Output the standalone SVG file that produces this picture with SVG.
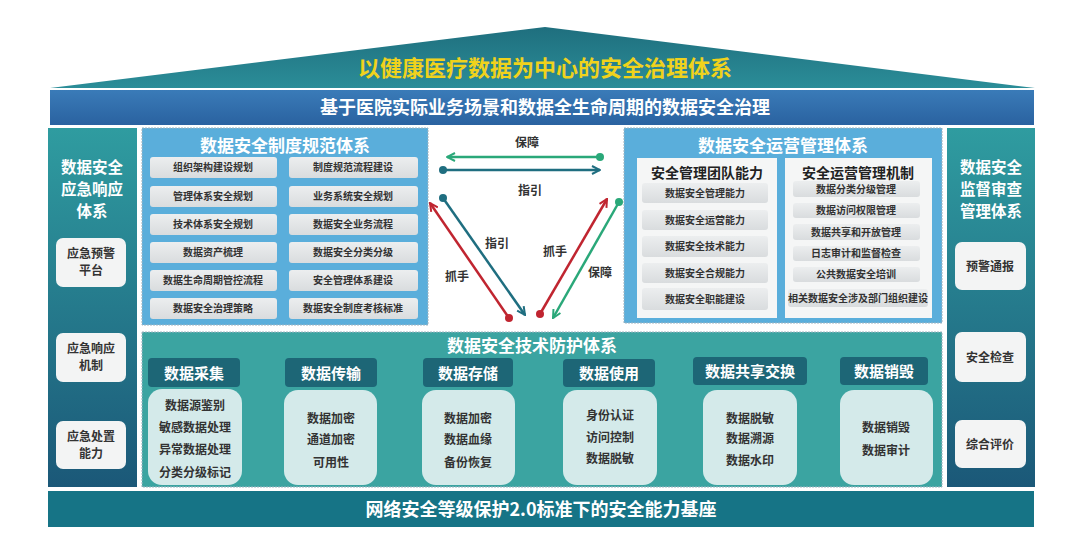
<svg xmlns="http://www.w3.org/2000/svg" width="1080" height="553" viewBox="0 0 1080 553">
<defs>
<linearGradient id="gRoof" x1="0" y1="0" x2="0" y2="1"><stop offset="0" stop-color="#1f6f7e"/><stop offset="1" stop-color="#2b8d98"/></linearGradient>
<linearGradient id="gBlue" x1="0" y1="0" x2="0" y2="1"><stop offset="0" stop-color="#3a7bb8"/><stop offset="1" stop-color="#2a62a0"/></linearGradient>
<linearGradient id="gCol" x1="0" y1="0" x2="0" y2="1"><stop offset="0" stop-color="#2f9ca0"/><stop offset="1" stop-color="#1b5878"/></linearGradient>
<linearGradient id="gItem" x1="0" y1="0" x2="0" y2="1"><stop offset="0" stop-color="#eceeef"/><stop offset="1" stop-color="#d9dcde"/></linearGradient>
<marker id="mG" viewBox="0 0 10 10" refX="9" refY="5" markerWidth="4" markerHeight="4" orient="auto"><path d="M1,1 L9,5 L1,9" fill="none" stroke="#2aa879" stroke-width="2"/></marker>
<marker id="mT" viewBox="0 0 10 10" refX="9" refY="5" markerWidth="4" markerHeight="4" orient="auto"><path d="M1,1 L9,5 L1,9" fill="none" stroke="#1f6e80" stroke-width="2"/></marker>
<marker id="mR" viewBox="0 0 10 10" refX="9" refY="5" markerWidth="4" markerHeight="4" orient="auto"><path d="M1,1 L9,5 L1,9" fill="none" stroke="#c02530" stroke-width="2"/></marker>
</defs>
<style>
text{font-family:"Noto Sans CJK SC","Noto Sans",sans-serif;font-weight:bold;text-anchor:middle;}
.w{fill:#ffffff;}
.t17{font-size:17px;}
.t15{font-size:15.5px;}
.d{fill:#333333;}
.s10{font-size:10px;}
.s12{font-size:12px;}
.s13{font-size:13px;}
.item{fill:url(#gItem);}
.wbox{fill:#f3f4f4;}
.hdr{fill:#1d6676;}
.cbox{fill:#d4eaea;}
</style>
<rect width="1080" height="553" fill="#ffffff"/>

<g id="roof">
<polygon points="545,27 1035,88 50,88" fill="url(#gRoof)"/>
<text x="545" y="76" font-size="22" fill="#f0d21c">以健康医疗数据为中心的安全治理体系</text>
</g>

<g id="banner-top">
<rect x="50" y="90" width="984" height="35" fill="url(#gBlue)"/>
<text x="545" y="114" font-size="18" class="w">基于医院实际业务场景和数据全生命周期的数据安全治理</text>
</g>

<g id="left-column">
<rect x="48" y="128" width="89" height="359" fill="url(#gCol)"/>
<text x="92" y="173" class="w t15">数据安全</text>
<text x="92" y="195" class="w t15">应急响应</text>
<text x="92" y="217" class="w t15">体系</text>
<rect x="56" y="238" width="70" height="49" rx="7" class="wbox"/>
<text x="91" y="258" class="d s12">应急预警</text>
<text x="91" y="275" class="d s12">平台</text>
<rect x="56" y="333" width="70" height="49" rx="7" class="wbox"/>
<text x="91" y="353" class="d s12">应急响应</text>
<text x="91" y="370" class="d s12">机制</text>
<rect x="56" y="421" width="70" height="48" rx="7" class="wbox"/>
<text x="91" y="441" class="d s12">应急处置</text>
<text x="91" y="458" class="d s12">能力</text>
</g>

<g id="right-column">
<rect x="947" y="128" width="88" height="359" fill="url(#gCol)"/>
<text x="991" y="173" class="w t15">数据安全</text>
<text x="991" y="195" class="w t15">监督审查</text>
<text x="991" y="217" class="w t15">管理体系</text>
<rect x="955" y="242" width="71" height="48" rx="7" class="wbox"/>
<text x="990" y="271" class="d s12">预警通报</text>
<rect x="955" y="332" width="71" height="50" rx="7" class="wbox"/>
<text x="990" y="362" class="d s12">安全检查</text>
<rect x="955" y="420" width="71" height="48" rx="7" class="wbox"/>
<text x="990" y="449" class="d s12">综合评价</text>
</g>

<g id="policy-panel">
<rect x="142" y="128" width="286" height="197" fill="#5aaedb" stroke="#9fb4c0" stroke-dasharray="2,1"/>
<text x="285" y="152" class="w t17">数据安全制度规范体系</text>
<rect x="150" y="157" width="127" height="21" rx="3" class="item"/><text x="213" y="171" class="d s10">组织架构建设规划</text>
<rect x="150" y="186" width="127" height="21" rx="3" class="item"/><text x="213" y="200" class="d s10">管理体系安全规划</text>
<rect x="150" y="214" width="127" height="21" rx="3" class="item"/><text x="213" y="228" class="d s10">技术体系安全规划</text>
<rect x="150" y="242" width="127" height="21" rx="3" class="item"/><text x="213" y="256" class="d s10">数据资产梳理</text>
<rect x="150" y="270" width="127" height="21" rx="3" class="item"/><text x="213" y="284" class="d s10">数据生命周期管控流程</text>
<rect x="150" y="298" width="127" height="21" rx="3" class="item"/><text x="213" y="312" class="d s10">数据安全治理策略</text>
<rect x="289" y="157" width="129" height="21" rx="3" class="item"/><text x="353" y="171" class="d s10">制度规范流程建设</text>
<rect x="289" y="186" width="129" height="21" rx="3" class="item"/><text x="353" y="200" class="d s10">业务系统安全规划</text>
<rect x="289" y="214" width="129" height="21" rx="3" class="item"/><text x="353" y="228" class="d s10">数据安全业务流程</text>
<rect x="289" y="242" width="129" height="21" rx="3" class="item"/><text x="353" y="256" class="d s10">数据安全分类分级</text>
<rect x="289" y="270" width="129" height="21" rx="3" class="item"/><text x="353" y="284" class="d s10">安全管理体系建设</text>
<rect x="289" y="298" width="129" height="21" rx="3" class="item"/><text x="353" y="312" class="d s10">数据安全制度考核标准</text>
</g>

<g id="ops-panel">
<rect x="624" y="128" width="318" height="195" fill="#5aaedb" stroke="#9fb4c0" stroke-dasharray="2,1"/>
<text x="783" y="152" class="w t17">数据安全运营管理体系</text>
<rect x="637" y="158" width="140" height="160" fill="#f5f6f6"/>
<rect x="785" y="158" width="147" height="160" fill="#f5f6f6"/>
<text x="707" y="178" font-size="14" fill="#222222">安全管理团队能力</text>
<text x="858" y="178" font-size="14" fill="#222222">安全运营管理机制</text>
<rect x="642" y="183" width="126" height="20" rx="3" class="item"/><text x="705" y="197" class="d s10">数据安全管理能力</text>
<rect x="642" y="210" width="126" height="20" rx="3" class="item"/><text x="705" y="224" class="d s10">数据安全运营能力</text>
<rect x="642" y="236" width="126" height="21" rx="3" class="item"/><text x="705" y="250" class="d s10">数据安全技术能力</text>
<rect x="642" y="263" width="126" height="20" rx="3" class="item"/><text x="705" y="277" class="d s10">数据安全合规能力</text>
<rect x="642" y="288" width="126" height="22" rx="3" class="item"/><text x="705" y="303" class="d s10">数据安全职能建设</text>
<rect x="793" y="181" width="127" height="16" rx="3" class="item"/><text x="856" y="193" class="d s10">数据分类分级管理</text>
<rect x="793" y="203" width="127" height="15" rx="3" class="item"/><text x="856" y="214" class="d s10">数据访问权限管理</text>
<rect x="793" y="224" width="127" height="16" rx="3" class="item"/><text x="856" y="236" class="d s10">数据共享和开放管理</text>
<rect x="793" y="246" width="127" height="15" rx="3" class="item"/><text x="856" y="257" class="d s10">日志审计和监督检查</text>
<rect x="793" y="267" width="127" height="15" rx="3" class="item"/><text x="856" y="278" class="d s10">公共数据安全培训</text>
<rect x="788" y="289" width="140" height="18" rx="3" class="item"/><text x="858" y="302" class="d s10">相关数据安全涉及部门组织建设</text>
</g>

<g id="connectors" stroke-width="2.5" fill="none">
<line x1="600" y1="157" x2="447" y2="157" stroke="#2aa879" marker-end="url(#mG)"/>
<circle cx="600" cy="157" r="4" fill="#2aa879" stroke="none"/>
<line x1="443" y1="170" x2="600" y2="170" stroke="#1f6e80" marker-end="url(#mT)"/>
<circle cx="443" cy="170" r="4" fill="#1f6e80" stroke="none"/>
<line x1="443" y1="198" x2="525" y2="315" stroke="#1f6e80" marker-end="url(#mT)"/>
<circle cx="443" cy="198" r="4" fill="#1f6e80" stroke="none"/>
<line x1="509" y1="318" x2="430" y2="203" stroke="#c02530" marker-end="url(#mR)"/>
<circle cx="509" cy="318" r="4" fill="#c02530" stroke="none"/>
<line x1="540" y1="314" x2="607" y2="199" stroke="#c02530" marker-end="url(#mR)"/>
<circle cx="540" cy="314" r="4" fill="#c02530" stroke="none"/>
<line x1="619" y1="202" x2="553" y2="318" stroke="#2aa879" marker-end="url(#mG)"/>
<circle cx="619" cy="202" r="4" fill="#2aa879" stroke="none"/>
<text x="527" y="147" class="d s12" stroke="none">保障</text>
<text x="530" y="195" class="d s12" stroke="none">指引</text>
<text x="497" y="248" class="d s12" stroke="none">指引</text>
<text x="457" y="281" class="d s12" stroke="none">抓手</text>
<text x="555" y="256" class="d s12" stroke="none">抓手</text>
<text x="600" y="277" class="d s12" stroke="none">保障</text>
</g>

<g id="tech-panel">
<rect x="142" y="332" width="800" height="155" fill="#3ba4a1" stroke="#9fb4c0" stroke-dasharray="2,1"/>
<text x="532" y="352" class="w t17">数据安全技术防护体系</text>
<rect x="148" y="358" width="92" height="29" rx="4" class="hdr"/><text x="194" y="379" class="w" font-size="15">数据采集</text>
<rect x="285" y="358" width="92" height="29" rx="4" class="hdr"/><text x="331" y="379" class="w" font-size="15">数据传输</text>
<rect x="423" y="358" width="90" height="29" rx="4" class="hdr"/><text x="468" y="379" class="w" font-size="15">数据存储</text>
<rect x="563" y="359" width="92" height="28" rx="4" class="hdr"/><text x="609" y="379" class="w" font-size="15">数据使用</text>
<rect x="693" y="357" width="114" height="28" rx="4" class="hdr"/><text x="750" y="377" class="w" font-size="15">数据共享交换</text>
<rect x="840" y="357" width="88" height="28" rx="4" class="hdr"/><text x="884" y="377" class="w" font-size="15">数据销毁</text>
<rect x="148" y="389" width="94" height="96" rx="14" class="cbox"/>
<text x="195" y="410" class="d s12">数据源鉴别</text>
<text x="195" y="432" class="d s12">敏感数据处理</text>
<text x="195" y="454" class="d s12">异常数据处理</text>
<text x="195" y="477" class="d s12">分类分级标记</text>
<rect x="284" y="390" width="93" height="95" rx="14" class="cbox"/>
<text x="331" y="423" class="d s12">数据加密</text>
<text x="331" y="444" class="d s12">通道加密</text>
<text x="331" y="467" class="d s12">可用性</text>
<rect x="422" y="390" width="93" height="95" rx="14" class="cbox"/>
<text x="468" y="423" class="d s12">数据加密</text>
<text x="468" y="444" class="d s12">数据血缘</text>
<text x="468" y="467" class="d s12">备份恢复</text>
<rect x="563" y="390" width="94" height="95" rx="14" class="cbox"/>
<text x="610" y="420" class="d s12">身份认证</text>
<text x="610" y="442" class="d s12">访问控制</text>
<text x="610" y="463" class="d s12">数据脱敏</text>
<rect x="703" y="390" width="94" height="95" rx="14" class="cbox"/>
<text x="750" y="423" class="d s12">数据脱敏</text>
<text x="750" y="443" class="d s12">数据溯源</text>
<text x="750" y="465" class="d s12">数据水印</text>
<rect x="840" y="390" width="93" height="95" rx="14" class="cbox"/>
<text x="886" y="432" class="d s12">数据销毁</text>
<text x="886" y="455" class="d s12">数据审计</text>
</g>

<g id="banner-bottom">
<rect x="48" y="491" width="986" height="36" fill="#167486"/>
<text x="541" y="516" font-size="18" class="w">网络安全等级保护2.0标准下的安全能力基座</text>
</g>
</svg>
